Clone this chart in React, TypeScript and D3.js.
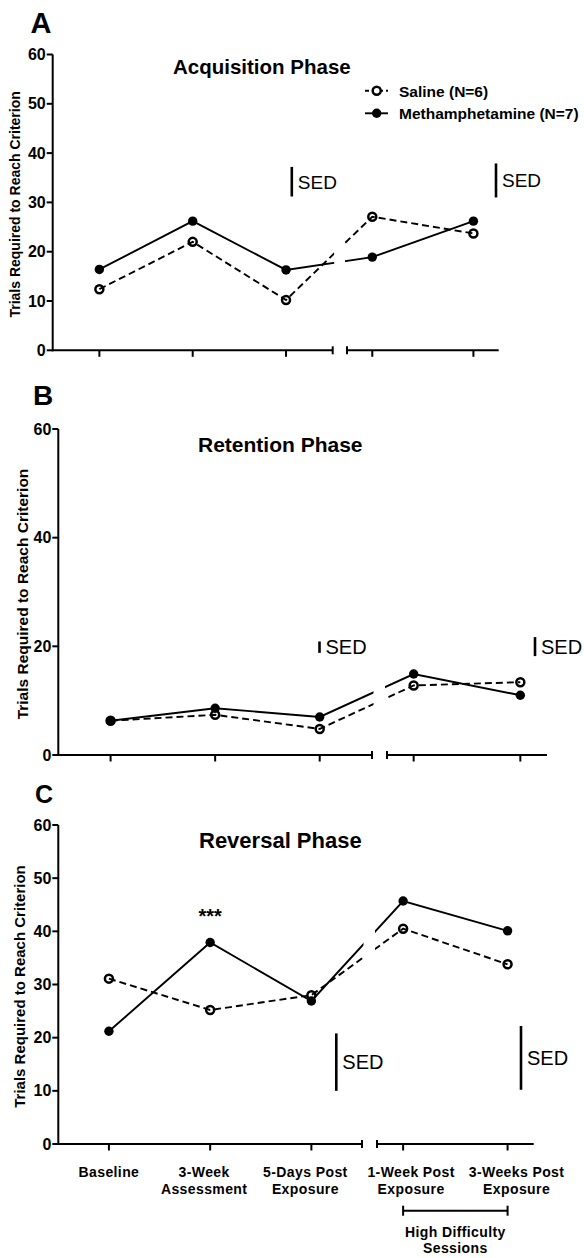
import React from "react";
import * as d3 from "d3";

// ---------- data ----------
const categories = ["Baseline", "3-Week Assessment", "5-Days Post Exposure", "1-Week Post Exposure", "3-Weeks Post Exposure"];
const categoryLines = [["Baseline"], ["3-Week", "Assessment"], ["5-Days Post", "Exposure"], ["1-Week Post", "Exposure"], ["3-Weeks Post", "Exposure"]];
const seriesNames = ["Saline (N=6)", "Methamphetamine (N=7)"];

const acquisitionSaline = [12.4, 22.0, 10.2, 27.1, 23.7];
const acquisitionMeth = [16.4, 26.2, 16.3, 18.9, 26.2];
const retentionSaline = [6.3, 7.4, 4.8, 12.8, 13.4];
const retentionMeth = [6.3, 8.6, 7.0, 14.9, 11.0];
const reversalSaline = [31.1, 25.2, 28.0, 40.5, 33.8];
const reversalMeth = [21.2, 37.9, 26.9, 45.7, 40.1];

const acquisitionSED = [[31.2, 37.2], [31.0, 37.9]];
const retentionSED = [[18.8, 20.9], [18.2, 21.7]];
const reversalSED = [[10.0, 20.8], [10.2, 22.2]];

const ticksTen = [0, 10, 20, 30, 40, 50, 60];
const ticksTwenty = [0, 20, 40, 60];

const yAxisTitle = "Trials Required to Reach Criterion";
const bracketLabel = ["High Difficulty", "Sessions"];

// ---------- layout ----------
const FONT = "'Liberation Sans', Arial, Helvetica, sans-serif";
const LABEL_SHIFT = [0, -6, -6, 8, 9];

type PanelCfg = {
  letter: string; letterX: number; letterY: number; letterSize: number;
  title: string; titleX: number; titleY: number; titleSize: number;
  axisX: number; yTop: number; yBottom: number;
  seg1: [number, number]; seg2: [number, number];
  ticks: number[];
  ylabX: number; ylabSize: number;
  saline: number[]; meth: number[];
  sed: number[][]; sedX: number[]; sedSize: number;
  legend?: boolean; xLabels?: boolean; stars?: number;
};

const panels: PanelCfg[] = [
  {
    letter: "A", letterX: 30.5, letterY: 32.7, letterSize: 29,
    title: "Acquisition Phase", titleX: 173, titleY: 74, titleSize: 20.5,
    axisX: 52.7, yTop: 54.5, yBottom: 350.3, seg1: [52.7, 332.7], seg2: [347, 498.7],
    ticks: ticksTen, ylabX: 20, ylabSize: 14,
    saline: acquisitionSaline, meth: acquisitionMeth,
    sed: acquisitionSED, sedX: [291.8, 496], sedSize: 19, legend: true,
  },
  {
    letter: "B", letterX: 33, letterY: 405, letterSize: 28,
    title: "Retention Phase", titleX: 198, titleY: 451.7, titleSize: 21,
    axisX: 58.3, yTop: 429, yBottom: 755, seg1: [58.3, 372], seg2: [387, 547],
    ticks: ticksTwenty, ylabX: 28, ylabSize: 15.5,
    saline: retentionSaline, meth: retentionMeth,
    sed: retentionSED, sedX: [319.5, 535], sedSize: 20,
  },
  {
    letter: "C", letterX: 35, letterY: 803, letterSize: 25,
    title: "Reversal Phase", titleX: 199, titleY: 848.3, titleSize: 22,
    axisX: 58.3, yTop: 825, yBottom: 1144, seg1: [58.3, 362], seg2: [377, 533.7],
    ticks: ticksTen, ylabX: 25, ylabSize: 15,
    saline: reversalSaline, meth: reversalMeth,
    sed: reversalSED, sedX: [336.3, 521], sedSize: 20,
    xLabels: true, stars: 1,
  },
];

function Panel({ cfg, idx }: { cfg: PanelCfg; idx: number }) {
  const y = d3.scaleLinear().domain([0, 60]).range([cfg.yBottom, cfg.yTop]);
  const x1 = d3.scalePoint<string>().domain(categories.slice(0, 3)).range(cfg.seg1).padding(0.5);
  const x2 = d3.scalePoint<string>().domain(categories.slice(3)).range(cfg.seg2).padding(0.25);
  const xPos = (i: number) => (i < 3 ? (x1(categories[i]) as number) : (x2(categories[i]) as number));
  const line = d3.line<number>().x((_, i) => xPos(i)).y((d) => y(d));
  const y0 = y(0);
  const clipId = `gap-clip-${idx}`;
  const salinePts = cfg.saline.map((v, i) => [xPos(i), y(v)]);
  const methPts = cfg.meth.map((v, i) => [xPos(i), y(v)]);

  return (
    <g>
      <defs>
        <clipPath id={clipId}>
          <rect x={0} y={0} width={cfg.seg1[1] + 1.5} height={1258} />
          <rect x={cfg.seg2[0] - 2} y={0} width={584} height={1258} />
        </clipPath>
      </defs>
      <text x={cfg.letterX} y={cfg.letterY} fontSize={cfg.letterSize} fontWeight="bold">{cfg.letter}</text>
      <text x={cfg.titleX} y={cfg.titleY} fontSize={cfg.titleSize} fontWeight="bold">{cfg.title}</text>

      {/* y axis */}
      <line x1={cfg.axisX} x2={cfg.axisX} y1={y(60)} y2={y0 + 1} stroke="#000" strokeWidth={2} />
      {cfg.ticks.map((t) => (
        <g key={t}>
          <line x1={cfg.axisX - 6} x2={cfg.axisX} y1={y(t)} y2={y(t)} stroke="#000" strokeWidth={2} />
          <text x={cfg.axisX - 7} y={y(t) + 5.6} fontSize={16} fontWeight="bold" textAnchor="end">{t}</text>
        </g>
      ))}
      <text
        transform={`translate(${cfg.ylabX},${(y(0) + y(60)) / 2 + 2}) rotate(-90)`}
        fontSize={cfg.ylabSize} fontWeight="bold" textAnchor="middle"
      >{yAxisTitle}</text>

      {/* x axis segments */}
      <line x1={cfg.axisX - 1} x2={cfg.seg1[1]} y1={y0} y2={y0} stroke="#000" strokeWidth={2} />
      <line x1={cfg.seg1[1]} x2={cfg.seg1[1]} y1={y0 - 4} y2={y0 + 4} stroke="#000" strokeWidth={2} />
      <line x1={cfg.seg2[0]} x2={cfg.seg2[1]} y1={y0} y2={y0} stroke="#000" strokeWidth={2} />
      <line x1={cfg.seg2[0]} x2={cfg.seg2[0]} y1={y0 - 4} y2={y0 + 4} stroke="#000" strokeWidth={2} />
      {categories.map((c, i) => (
        <line key={c} x1={xPos(i)} x2={xPos(i)} y1={y0} y2={y0 + 6.5} stroke="#000" strokeWidth={2} />
      ))}

      {/* lines */}
      <g clipPath={`url(#${clipId})`}>
        <path d={line(cfg.saline) || ""} fill="none" stroke="#000" strokeWidth={1.9} strokeDasharray="7,4" />
        <path d={line(cfg.meth) || ""} fill="none" stroke="#000" strokeWidth={1.9} />
      </g>
      {salinePts.map((p, i) => (
        <circle key={`s${i}`} cx={p[0]} cy={p[1]} r={4} fill="none" stroke="#000" strokeWidth={2.5} />
      ))}
      {methPts.map((p, i) => (
        <circle key={`m${i}`} cx={p[0]} cy={p[1]} r={4.7} fill="#000" />
      ))}

      {/* SED bars */}
      {cfg.sed.map((s, i) => (
        <g key={`sed${i}`}>
          <line x1={cfg.sedX[i]} x2={cfg.sedX[i]} y1={y(s[0])} y2={y(s[1])} stroke="#000" strokeWidth={2.6} />
          <text x={cfg.sedX[i] + 6} y={(y(s[0]) + y(s[1])) / 2 + cfg.sedSize * 0.36} fontSize={cfg.sedSize}>SED</text>
        </g>
      ))}

      {cfg.stars !== undefined && (
        <text x={xPos(cfg.stars)} y={y(cfg.meth[cfg.stars]) - 19} fontSize={20} fontWeight="bold" textAnchor="middle">***</text>
      )}

      {cfg.legend && (
        <g>
          {seriesNames.map((n, i) => {
            const ly = 90.7 + i * 22.6;
            return (
              <g key={n}>
                <line x1={365} x2={388} y1={ly} y2={ly} stroke="#000" strokeWidth={1.9} strokeDasharray={i === 0 ? "4,3" : undefined} />
                {i === 0 ? (
                  <circle cx={376.7} cy={ly} r={4} fill="#fff" stroke="#000" strokeWidth={2.5} />
                ) : (
                  <circle cx={376.7} cy={ly} r={4.7} fill="#000" />
                )}
                <text x={399} y={ly + 5.8} fontSize={15.5} fontWeight="bold">{n}</text>
              </g>
            );
          })}
        </g>
      )}

      {cfg.xLabels && (
        <g>
          {categoryLines.map((lines, i) => {
            const lx = xPos(i) + LABEL_SHIFT[i];
            return (
              <text key={i} x={lx} y={y0 + 32.7} fontSize={14} fontWeight="bold" textAnchor="middle" letterSpacing={0.4}>
                {lines.map((l, j) => (
                  <tspan key={j} x={lx} dy={j === 0 ? 0 : 17.2}>{l}</tspan>
                ))}
              </text>
            );
          })}
          {(() => {
            const bx1 = xPos(3), bx2 = xPos(4), by = y0 + 66.7;
            const cx = (bx1 + bx2) / 2;
            return (
              <g>
                <line x1={bx1} x2={bx2} y1={by} y2={by} stroke="#000" strokeWidth={2} />
                <line x1={bx1} x2={bx1} y1={by - 5} y2={by + 5} stroke="#000" strokeWidth={2} />
                <line x1={bx2} x2={bx2} y1={by - 5} y2={by + 5} stroke="#000" strokeWidth={2} />
                <text x={cx} y={by + 26.6} fontSize={14} fontWeight="bold" textAnchor="middle" letterSpacing={0.4}>
                  <tspan x={cx} dy={0}>{bracketLabel[0]}</tspan>
                  <tspan x={cx} dy={16}>{bracketLabel[1]}</tspan>
                </text>
              </g>
            );
          })()}
        </g>
      )}
    </g>
  );
}

export default function App() {
  return (
    <svg
      width={584}
      height={1258}
      style={{ position: "absolute", left: 0, top: 0, background: "#fff" }}
      fontFamily={FONT}
    >
      <rect x={0} y={0} width={584} height={1258} fill="#fff" />
      {panels.map((p, i) => (
        <Panel key={p.letter} cfg={p} idx={i} />
      ))}
    </svg>
  );
}
